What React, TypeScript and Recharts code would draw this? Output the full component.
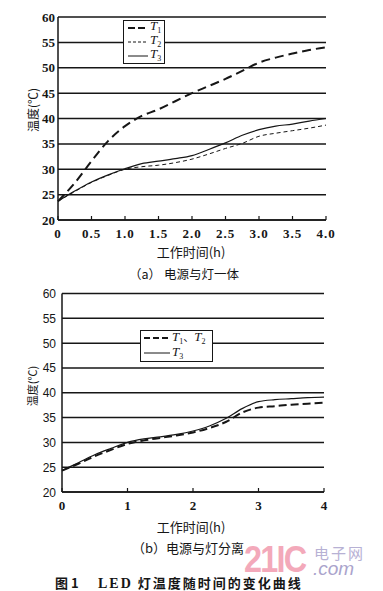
import React from 'react';
import { LineChart, Line, XAxis, YAxis, CartesianGrid } from 'recharts';

// ---- data: (a) power supply integrated with lamp ----
const timesA = [0, 0.25, 0.5, 0.75, 1, 1.25, 1.5, 1.75, 2, 2.25, 2.5, 2.75, 3, 3.25, 3.5, 3.75, 4];
const t1A = [23.7, 27.3, 31.6, 35.6, 38.5, 40.5, 41.8, 43.4, 45.0, 46.4, 47.8, 49.4, 51.0, 52.0, 52.8, 53.5, 54.0];
const t2A = [23.7, 25.6, 27.4, 28.8, 30.0, 30.5, 30.8, 31.3, 32.0, 33.0, 34.1, 35.1, 36.5, 37.1, 37.6, 38.1, 38.7];
const t3A = [23.7, 25.7, 27.5, 28.9, 30.1, 31.1, 31.6, 32.1, 32.7, 33.9, 35.2, 36.7, 37.8, 38.5, 38.9, 39.5, 40.0];
const xTicksA = [0, 0.5, 1, 1.5, 2, 2.5, 3, 3.5, 4];
const xLabelsA = ['0', '0.5', '1.0', '1.5', '2.0', '2.5', '3.0', '3.5', '4.0'];

// ---- data: (b) power supply separated from lamp ----
const timesB = [0, 0.25, 0.5, 0.75, 1, 1.25, 1.5, 1.75, 2, 2.25, 2.5, 2.75, 3, 3.25, 3.5, 3.75, 4];
const t12B = [24.3, 25.7, 27.2, 28.5, 29.7, 30.4, 30.9, 31.4, 32.0, 32.9, 34.1, 36.0, 37.0, 37.3, 37.6, 37.8, 38.0];
const t3B = [24.3, 25.9, 27.5, 28.8, 30.0, 30.7, 31.1, 31.6, 32.3, 33.3, 34.8, 36.8, 38.2, 38.6, 38.8, 39.0, 39.1];
const xTicksB = [0, 1, 2, 3, 4];
const xLabelsB = ['0', '1', '2', '3', '4'];

const yTicks = [20, 25, 30, 35, 40, 45, 50, 55, 60];

const dataA = timesA.map((t, i) => ({ t, T1: t1A[i], T2: t2A[i], T3: t3A[i] }));
const dataB = timesB.map((t, i) => ({ t, T12: t12B[i], T3: t3B[i] }));

const INK = '#161616';
const SERIF = '"Liberation Serif", "DejaVu Serif", serif';
const CJK = '"Noto Sans CJK SC", sans-serif';

const makeXTick = (ticks: number[], labels: string[], fontFamily: string, fontSize: number, spacing: number) =>
  (props: any) => {
    const { x, y, payload } = props;
    const idx = ticks.indexOf(payload.value);
    const label = idx >= 0 ? labels[idx] : String(payload.value);
    return (
      <g>
        <line x1={x} y1={y} x2={x} y2={y - 4} stroke={INK} strokeWidth={1.2} />
        <text x={x} y={y + 18} textAnchor="middle" fill={INK} fontFamily={fontFamily}
          fontSize={fontSize} fontWeight="bold" letterSpacing={spacing}>{label}</text>
      </g>
    );
  };

const makeYTick = (gap: number, fontFamily: string, fontSize: number, weight: string) => (props: any) => {
  const { x, y, payload } = props;
  return (
    <text x={x - gap} y={y + 4.5} textAnchor="end" fill={INK} fontFamily={fontFamily}
      fontSize={fontSize} fontWeight={weight}>{payload.value}</text>
  );
};

const Tsub = ({ n }: { n: string }) => (
  <span style={{ fontFamily: SERIF, fontStyle: 'italic', fontSize: 13 }}>
    T<sub style={{ fontSize: 8, fontStyle: 'normal', verticalAlign: '-3px' }}>{n}</sub>
  </span>
);

const abs = (left: number, top: number, extra: React.CSSProperties = {}): React.CSSProperties => ({
  position: 'absolute', left, top, ...extra,
});

export default function App() {
  return (
    <div style={{ position: 'absolute', left: 0, top: 0, width: 383, height: 591, background: '#fff', overflow: 'hidden', color: INK }}>
      {/* chart (a) */}
      <div style={abs(0, 0)}>
        <LineChart width={383} height={240} data={dataA} margin={{ top: 17, right: 57, left: 18, bottom: 0 }}>
          <CartesianGrid horizontal vertical={false} stroke={INK} strokeWidth={1.5} />
          <XAxis dataKey="t" type="number" domain={[0, 4]} ticks={xTicksA} interval={0} height={20}
            tickSize={0} tickMargin={0} tickLine={false} axisLine={{ stroke: INK, strokeWidth: 1.5 }}
            tick={makeXTick(xTicksA, xLabelsA, SERIF, 13, 1)} />
          <YAxis type="number" domain={[20, 60]} ticks={yTicks} interval={0} width={40}
            tickSize={0} tickMargin={0} tickLine={false} axisLine={{ stroke: INK, strokeWidth: 1.5 }}
            tick={makeYTick(3, SERIF, 13, 'bold')} />
          <Line dataKey="T1" type="monotone" stroke={INK} strokeWidth={2} strokeDasharray="9 5" dot={false} isAnimationActive={false} />
          <Line dataKey="T2" type="monotone" stroke={INK} strokeWidth={1} strokeDasharray="4 3" dot={false} isAnimationActive={false} />
          <Line dataKey="T3" type="monotone" stroke={INK} strokeWidth={1.2} dot={false} isAnimationActive={false} />
        </LineChart>
      </div>

      {/* legend (a) */}
      <div style={abs(123, 20, { width: 42, height: 44, background: '#fff', border: `1.3px solid ${INK}`, boxSizing: 'border-box' })}>
        <svg width={24} height={44} style={{ position: 'absolute', left: 2, top: -1 }}>
          <line x1={2} y1={8} x2={22} y2={8} stroke={INK} strokeWidth={2} strokeDasharray="7 3" />
          <line x1={2} y1={22} x2={22} y2={22} stroke={INK} strokeWidth={1} strokeDasharray="3 2" />
          <line x1={2} y1={36} x2={22} y2={36} stroke={INK} strokeWidth={1} />
        </svg>
        <div style={abs(26, -3, { lineHeight: '14px' })}><Tsub n="1" /></div>
        <div style={abs(26, 11, { lineHeight: '14px' })}><Tsub n="2" /></div>
        <div style={abs(26, 25, { lineHeight: '14px' })}><Tsub n="3" /></div>
      </div>

      {/* axis titles (a) */}
      <div style={abs(32, 110, { transform: 'translate(-50%, -50%) rotate(-90deg)', whiteSpace: 'nowrap', fontFamily: CJK, fontSize: 12 })}>温度(℃)</div>
      <div style={abs(191, 251, { transform: 'translate(-50%, -50%)', whiteSpace: 'nowrap', fontFamily: CJK, fontSize: 13 })}>工作时间(h)</div>
      <div style={abs(184, 273, { transform: 'translate(-50%, -50%)', whiteSpace: 'nowrap', fontFamily: CJK, fontSize: 12.5 })}>（a） 电源与灯一体</div>

      {/* chart (b) */}
      <div style={abs(0, 276)}>
        <LineChart width={383} height={236} data={dataB} margin={{ top: 17.5, right: 59, left: 22, bottom: 0 }}>
          <CartesianGrid horizontal vertical={false} stroke={INK} strokeWidth={1.5} />
          <XAxis dataKey="t" type="number" domain={[0, 4]} ticks={xTicksB} interval={0} height={20}
            tickSize={0} tickMargin={0} tickLine={false} axisLine={{ stroke: INK, strokeWidth: 1.5 }}
            tick={makeXTick(xTicksB, xLabelsB, SERIF, 13, 0)} />
          <YAxis type="number" domain={[20, 60]} ticks={yTicks} interval={0} width={40}
            tickSize={0} tickMargin={0} tickLine={false} axisLine={{ stroke: INK, strokeWidth: 1.5 }}
            tick={makeYTick(6, '"Liberation Sans", Arial, sans-serif', 12, 'normal')} />
          <Line dataKey="T12" type="monotone" stroke={INK} strokeWidth={2} strokeDasharray="8 4" dot={false} isAnimationActive={false} />
          <Line dataKey="T3" type="monotone" stroke={INK} strokeWidth={1.2} dot={false} isAnimationActive={false} />
        </LineChart>
      </div>

      {/* legend (b) */}
      <div style={abs(140, 330, { width: 73, height: 32, background: '#fff', border: `1.3px solid ${INK}`, boxSizing: 'border-box' })}>
        <svg width={30} height={32} style={{ position: 'absolute', left: 1, top: -1 }}>
          <line x1={2} y1={8} x2={28} y2={8} stroke={INK} strokeWidth={1.8} strokeDasharray="6 3" />
          <line x1={2} y1={23} x2={28} y2={23} stroke={INK} strokeWidth={1} />
        </svg>
        <div style={abs(31, -2, { lineHeight: '14px', whiteSpace: 'nowrap' })}>
          <Tsub n="1" /><span style={{ fontFamily: CJK, fontSize: 11 }}>、</span><Tsub n="2" />
        </div>
        <div style={abs(31, 13, { lineHeight: '14px' })}><Tsub n="3" /></div>
      </div>

      {/* axis titles (b) */}
      <div style={abs(32, 386, { transform: 'translate(-50%, -50%) rotate(-90deg)', whiteSpace: 'nowrap', fontFamily: CJK, fontSize: 11 })}>温度(℃)</div>
      <div style={abs(191, 526, { transform: 'translate(-50%, -50%)', whiteSpace: 'nowrap', fontFamily: CJK, fontSize: 13 })}>工作时间(h)</div>
      <div style={abs(188, 547, { transform: 'translate(-50%, -50%)', whiteSpace: 'nowrap', fontFamily: CJK, fontSize: 13 })}>（b）电源与灯分离</div>

      {/* watermark */}
      <div style={abs(244, 545, { fontFamily: '"Liberation Sans", Arial, sans-serif', fontWeight: 'bold', fontSize: 36, color: '#f3a9ba', letterSpacing: -2, transform: 'scaleX(0.9)', transformOrigin: 'left top', lineHeight: '29px' })}>21IC</div>
      <div style={abs(314, 545, { fontFamily: CJK, fontSize: 15, color: '#b7b1d4', letterSpacing: 2, lineHeight: '15px' })}>电子网</div>
      <div style={abs(313, 562, { fontFamily: '"Liberation Sans", Arial, sans-serif', fontStyle: 'italic', fontSize: 19, color: '#aaa4cc', lineHeight: '13px' })}>.com</div>

      {/* figure caption */}
      <div style={abs(55, 576, { whiteSpace: 'nowrap', fontFamily: CJK, fontWeight: 'bold', fontSize: 13, lineHeight: '14px' })}>
        <span>图 1</span>
        <span style={{ position: 'absolute', left: 43, top: 0, letterSpacing: 2 }}>
          <span style={{ fontFamily: SERIF, fontSize: 14 }}>LED</span> 灯温度随时间的变化曲线
        </span>
      </div>
    </div>
  );
}
